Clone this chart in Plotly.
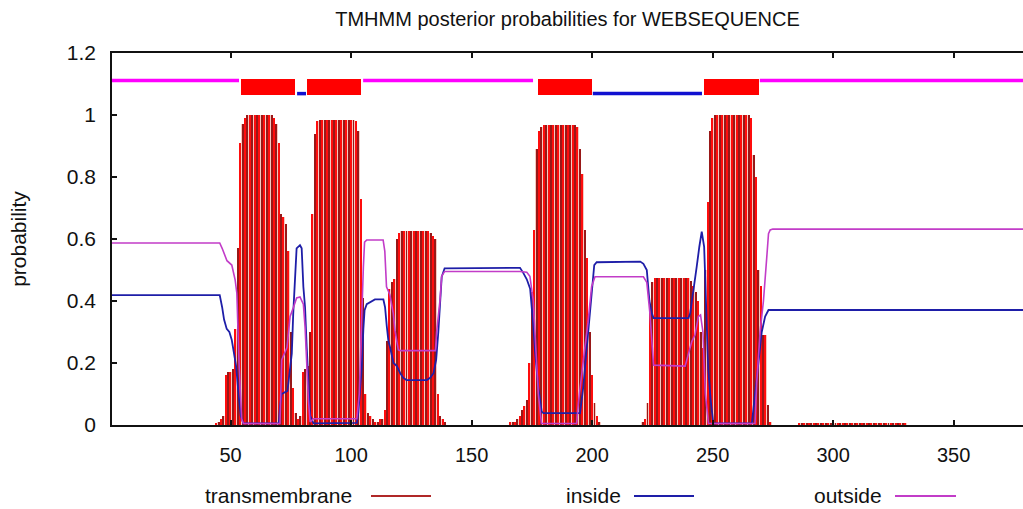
import plotly.graph_objects as go

TITLE = "TMHMM posterior probabilities for WEBSEQUENCE"
SEQ_END = 378.8

# ---- transmembrane posterior probability per residue (block start residue + values) ----
tm_block1_start = 44
tm_block1 = [0.005, 0.01, 0.02, 0.03, 0.16, 0.17, 0.17, 0.18, 0.31, 0.57,
             0.91, 0.97, 0.99, 1.0, 1.0, 1.0, 1.0, 1.0, 1.0, 1.0,
             1.0, 1.0, 1.0, 1.0, 0.99, 0.97, 0.91, 0.68, 0.67, 0.65,
             0.56, 0.30, 0.12, 0.04, 0.02, 0.03, 0.17, 0.18, 0.19, 0.30,
             0.68, 0.94, 0.98, 0.985, 0.985, 0.985, 0.985, 0.985, 0.985, 0.985,
             0.985, 0.985, 0.985, 0.985, 0.985, 0.985, 0.985, 0.985, 0.98, 0.95,
             0.73, 0.41, 0.10, 0.04, 0.03, 0.02, 0.01, 0.01, 0.02, 0.02,
             0.05, 0.27, 0.44, 0.46, 0.47, 0.60, 0.62, 0.625, 0.625, 0.625,
             0.625, 0.625, 0.625, 0.625, 0.625, 0.625, 0.625, 0.625, 0.625, 0.62,
             0.61, 0.60, 0.10, 0.03, 0.02, 0.01]
tm_block2_start = 166
tm_block2 = [0.01, 0.01, 0.01, 0.02, 0.03, 0.05, 0.06, 0.08, 0.20, 0.43,
             0.63, 0.89, 0.95, 0.962, 0.968, 0.968, 0.968, 0.968, 0.968, 0.968,
             0.968, 0.968, 0.968, 0.968, 0.968, 0.968, 0.968, 0.968, 0.96, 0.89,
             0.81, 0.63, 0.54, 0.30, 0.16, 0.07, 0.03, 0.01]
tm_block3_start = 221
tm_block3 = [0.01, 0.02, 0.07, 0.38, 0.46, 0.473, 0.473, 0.473, 0.473, 0.473,
             0.473, 0.473, 0.473, 0.473, 0.473, 0.473, 0.473, 0.473, 0.473, 0.473,
             0.466, 0.45, 0.43, 0.40, 0.30, 0.25, 0.50, 0.72, 0.95, 0.99,
             1.0, 1.0, 1.0, 1.0, 1.0, 1.0, 1.0, 1.0, 1.0, 1.0,
             1.0, 1.0, 1.0, 1.0, 1.0, 0.99, 0.87, 0.80, 0.50, 0.45,
             0.29, 0.29, 0.065, 0.01]
tm_block4_start = 286
tm_block4 = [0.004, 0.004, 0.004, 0.004, 0.004, 0.004, 0.004, 0.004, 0.004, 0.004,
             0.004, 0.004, 0.004, 0.004, 0.004, 0.004, 0.004, 0.004, 0.004, 0.004,
             0.004, 0.004, 0.004, 0.004, 0.004, 0.004, 0.004, 0.004, 0.004, 0.004,
             0.004, 0.004, 0.004, 0.004, 0.004, 0.004, 0.004, 0.004, 0.004, 0.004,
             0.004, 0.004, 0.004, 0.004, 0.004]

# ---- inside / outside posterior probability (polyline vertices: residue, prob) ----
inside_x = [0.8, 45.5, 46.5, 47.3, 48.4, 49.5, 50.5, 51.5, 52.3, 53.3, 54.2, 55.3, 70.0,
            70.5, 71.2, 73.6, 75.4, 76.0, 76.7, 77.4, 78.8, 79.5, 80.2, 80.9, 81.6, 82.3,
            83.0, 84.4, 102.4, 103.0, 104.4, 105.1, 105.6, 106.5, 108.5, 109.9, 113.4,
            114.1, 114.8, 115.5, 116.2, 117.0, 117.6, 119.0, 120.4, 121.7, 123.0, 131.4,
            132.8, 134.2, 135.3, 136.2, 136.9, 137.6, 138.8, 170.1, 171.5, 172.9, 174.3,
            175.0, 175.6, 176.3, 177.0, 177.7, 179.1, 179.8, 195.0, 195.7, 196.3, 197.0,
            198.0, 199.1, 200.2, 200.9, 201.9, 220.0, 221.3, 222.7, 223.8, 224.8, 225.5,
            240.0, 240.7, 242.0, 243.4, 244.5, 245.5, 246.5, 247.3, 248.2, 249.2, 250.3,
            266.3, 267.6, 269.0, 270.4, 271.8, 273.2, 378.8]
inside_y = [0.419, 0.419, 0.38, 0.34, 0.31, 0.30, 0.274, 0.23, 0.19, 0.10, 0.03, 0.005, 0.005,
            0.06, 0.10, 0.11, 0.23, 0.36, 0.446, 0.57, 0.58, 0.57, 0.446, 0.38, 0.25, 0.12,
            0.03, 0.005, 0.007, 0.04, 0.18, 0.31, 0.37, 0.39, 0.398, 0.405, 0.405,
            0.38, 0.32, 0.27, 0.25, 0.22, 0.20, 0.19, 0.167, 0.152, 0.145, 0.145,
            0.152, 0.167, 0.21, 0.30, 0.40, 0.478, 0.505, 0.507, 0.49, 0.47, 0.44,
            0.38, 0.32, 0.24, 0.18, 0.12, 0.043, 0.038, 0.038, 0.08, 0.12, 0.18,
            0.27, 0.36, 0.46, 0.516, 0.525, 0.527, 0.52, 0.50, 0.40, 0.36, 0.345,
            0.345, 0.36, 0.425, 0.51, 0.575, 0.624, 0.575, 0.40, 0.18, 0.08, 0.005,
            0.005, 0.10, 0.20, 0.30, 0.35, 0.371, 0.371]

outside_x = [0.8, 45.5, 46.5, 47.5, 48.5, 50.5, 51.9, 52.6, 53.5, 54.6, 55.3, 70.5, 71.2,
             73.4, 74.7, 76.1, 77.4, 78.8, 80.2, 80.9, 81.6, 82.3, 83.0, 84.4, 102.4, 103.4,
             105.1, 105.6, 106.5, 113.3, 114.0, 114.7, 116.1, 117.5, 118.2, 118.9, 119.6,
             120.4, 135.0, 135.5, 136.9, 137.6, 138.8, 170.0, 172.9, 174.2, 175.6, 176.3,
             177.0, 177.7, 179.0, 193.6, 194.3, 195.7, 197.0, 198.3, 199.8, 201.2, 221.3,
             222.7, 224.0, 224.8, 225.5, 238.6, 240.0, 241.4, 242.7, 244.1, 245.0, 246.0,
             247.0, 248.3, 267.6, 268.3, 269.7, 271.1, 272.5, 273.2, 273.9, 275.0, 378.8]
outside_y = [0.587, 0.587, 0.57, 0.55, 0.53, 0.516, 0.468, 0.425, 0.20, 0.02, 0.005, 0.005, 0.21,
             0.25, 0.35, 0.38, 0.41, 0.413, 0.39, 0.317, 0.19, 0.08, 0.01, 0.02, 0.02, 0.10,
             0.51, 0.59, 0.597, 0.597, 0.56, 0.446, 0.42, 0.36, 0.306, 0.27, 0.242,
             0.24, 0.24, 0.30, 0.403, 0.48, 0.495, 0.495, 0.493, 0.48, 0.40, 0.30,
             0.20, 0.10, 0.005, 0.005, 0.07, 0.17, 0.25, 0.33, 0.446, 0.478, 0.478,
             0.46, 0.36, 0.27, 0.193, 0.19, 0.23, 0.27, 0.29, 0.35, 0.355, 0.30,
             0.10, 0.005, 0.005, 0.135, 0.30, 0.40, 0.543, 0.617, 0.629, 0.632, 0.632]

# ---- predicted topology (segment boundaries in residues) ----
topo_kind = ["outside", "TMhelix", "inside", "TMhelix", "outside", "TMhelix", "inside", "TMhelix", "outside"]
topo_start = [0.8, 54.4, 77.6, 81.7, 105.0, 177.6, 200.3, 246.5, 269.6]
topo_end = [53.5, 76.8, 81.3, 104.1, 175.5, 200.0, 245.6, 269.3, 378.8]
LEVEL_OUT = 1.111
LEVEL_IN = 1.069
BOX_BASE = 1.066
BOX_TOP = 1.115

# ---- styles ----
FONT = "Liberation Sans, Arial, sans-serif"
C_TM_BRIGHT = "#ff0d0d"
C_TM_DARK = "#981818"
C_TM_GAP = "#f5c8c0"
C_IN = "#1e1ea8"
C_OUT = "#c23cc8"
C_IN_TOP = "#1010d0"
C_OUT_TOP = "#ff00ff"
C_BOX = "#ff0000"

# build per-residue TM arrays
tm_x, tm_y = [], []
for start, vals in [(tm_block1_start, tm_block1), (tm_block2_start, tm_block2),
                    (tm_block3_start, tm_block3), (tm_block4_start, tm_block4)]:
    for i, v in enumerate(vals):
        tm_x.append(start + i)
        tm_y.append(v)
tm_colors = [C_TM_BRIGHT if r % 2 == 0 else C_TM_DARK for r in tm_x]
tm_widths = [0.55 if r % 2 == 0 else 0.4 for r in tm_x]

fig = go.Figure()

# pinkish fill between impulses
fig.add_trace(go.Bar(x=tm_x, y=tm_y, width=1.0, marker=dict(color=C_TM_GAP, line=dict(width=0)),
                     hoverinfo="skip", showlegend=False))
# impulses
fig.add_trace(go.Bar(x=tm_x, y=tm_y, width=tm_widths, marker=dict(color=tm_colors, line=dict(width=0)),
                     name="transmembrane", showlegend=False))

fig.add_trace(go.Scatter(x=inside_x, y=inside_y, mode="lines", line=dict(color=C_IN, width=1.8),
                         name="inside", showlegend=False))
fig.add_trace(go.Scatter(x=outside_x, y=outside_y, mode="lines", line=dict(color=C_OUT, width=1.6),
                         name="outside", showlegend=False))

# topology bar on top
out_x, out_y, in_x, in_y = [], [], [], []
box_c, box_w = [], []
for k, s, e in zip(topo_kind, topo_start, topo_end):
    if k == "outside":
        out_x += [s, e, None]
        out_y += [LEVEL_OUT, LEVEL_OUT, None]
    elif k == "inside":
        in_x += [s, e, None]
        in_y += [LEVEL_IN, LEVEL_IN, None]
    else:
        box_c.append((s + e) / 2)
        box_w.append(e - s)
fig.add_trace(go.Scatter(x=out_x, y=out_y, mode="lines", line=dict(color=C_OUT_TOP, width=3.5),
                         showlegend=False, hoverinfo="skip"))
fig.add_trace(go.Scatter(x=in_x, y=in_y, mode="lines", line=dict(color=C_IN_TOP, width=3.5),
                         showlegend=False, hoverinfo="skip"))
fig.add_trace(go.Bar(x=box_c, y=[BOX_TOP - BOX_BASE] * len(box_c), base=BOX_BASE, width=box_w,
                     marker=dict(color=C_BOX, line=dict(width=0)), showlegend=False, hoverinfo="skip"))

# geometry (page body margin removed below, so figure pixels == page pixels)
W, H = 1023, 509
L, R, T, B = 112, 0, 53, 84
pw, ph = W - L - R, H - T - B


def px_x(p):
    return (p - L) / pw


def px_y(p):
    return (H - B - p) / ph


# manual legend (gnuplot style: label, then line sample)
legend_items = [("transmembrane", "#b02828", 354, 371, 431),
                ("inside", C_IN, 623, 634, 694),
                ("outside", C_OUT, 884, 895, 956)]
LEG_Y = 495
annotations = []
shapes = []
for label, col, text_right, l0, l1 in legend_items:
    annotations.append(dict(text=label, x=px_x(text_right), y=px_y(LEG_Y), xref="paper", yref="paper",
                            xanchor="right", yanchor="middle", showarrow=False,
                            font=dict(family=FONT, size=21, color="#111")))
    shapes.append(dict(type="line", xref="paper", yref="paper", x0=px_x(l0), x1=px_x(l1),
                       y0=px_y(LEG_Y + 1), y1=px_y(LEG_Y + 1), line=dict(color=col, width=2)))

fig.update_layout(
    width=W, height=H,
    margin=dict(l=L, r=R, t=T, b=B, pad=0),
    paper_bgcolor="white", plot_bgcolor="white",
    barmode="overlay", bargap=0,
    title=dict(text=TITLE, x=0.5, xref="paper", y=1 - 19 / H, yref="container", yanchor="middle",
               font=dict(family=FONT, size=20, color="#111")),
    annotations=annotations, shapes=shapes,
    showlegend=False,
    font=dict(family=FONT, size=21, color="#111"),
)
fig.update_xaxes(range=[0.8, SEQ_END], tickvals=[50, 100, 150, 200, 250, 300, 350],
                 ticks="inside", ticklen=5, tickwidth=1.5, tickcolor="#111",
                 showline=True, linecolor="#111", linewidth=1.5, mirror="ticks",
                 showgrid=False, zeroline=False, ticklabelstandoff=11, automargin=False,
                 tickfont=dict(family=FONT, size=20, color="#111"))
fig.update_yaxes(range=[0, 1.2], tickvals=[0, 0.2, 0.4, 0.6, 0.8, 1.0, 1.2],
                 ticktext=["0", "0.2", "0.4", "0.6", "0.8", "1", "1.2"],
                 ticks="inside", ticklen=5, tickwidth=1.5, tickcolor="#111",
                 showline=True, linecolor="#111", linewidth=1.5, mirror=False,
                 showgrid=False, zeroline=False, ticklabelstandoff=10, automargin=False,
                 tickfont=dict(family=FONT, size=21, color="#111"),
                 title=dict(text="probability", standoff=34, font=dict(family=FONT, size=21, color="#111")))

fig.write_html("out.html", config={"displayModeBar": False},
               post_script="document.body.style.margin='0px';")
